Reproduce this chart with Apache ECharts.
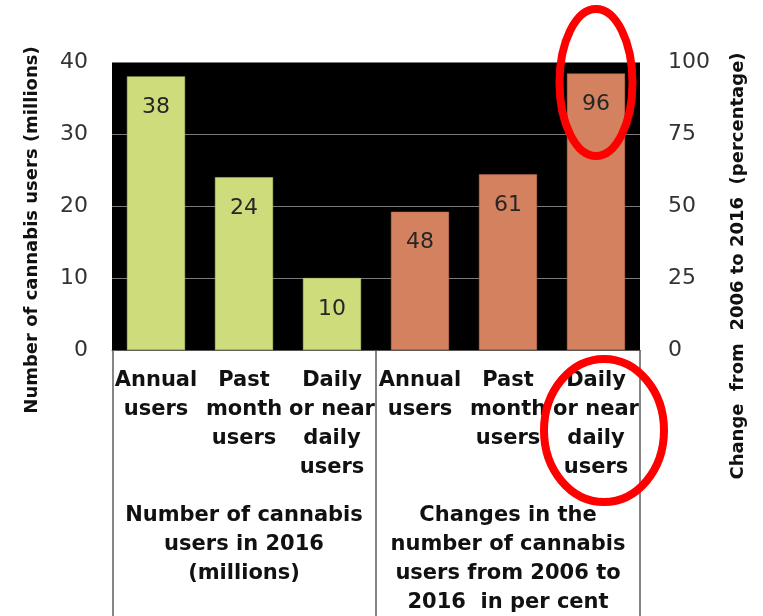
<!DOCTYPE html>
<html>
<head>
<meta charset="utf-8">
<script src="https://cdn.jsdelivr.net/npm/echarts@6/dist/echarts.min.js"></script>
<style>
  html, body { margin: 0; padding: 0; background: #fff; }
  #chart { width: 763px; height: 616px; }
</style>
</head>
<body>
<div id="chart"></div>
<script>
// Category labels along the bottom axis (two groups of three)
const categories = [
  'Annual\nusers', 'Past\nmonth\nusers', 'Daily\nor near\ndaily\nusers',
  'Annual\nusers', 'Past\nmonth\nusers', 'Daily\nor near\ndaily\nusers'
];
// Number of cannabis users in 2016 (millions) – left axis
const users2016 = [38, 24, 10, '-', '-', '-'];
// Change in number of users 2006–2016 (per cent) – right axis
const change0616 = ['-', '-', '-', 48, 61, 96];
// Group captions beneath the categories
const groupLabels = [
  'Number of cannabis\nusers in 2016\n(millions)',
  'Changes in the\nnumber of cannabis\nusers from 2006 to\n2016  in per cent'
];
const leftTitle = 'Number of cannabis users (millions)';
const rightTitle = 'Change  from  2006 to 2016  (percentage)';

const FONT = 'DejaVu Sans';
const chart = echarts.init(document.getElementById('chart'), null, { renderer: 'canvas' });

const option = {
  animation: false,
  backgroundColor: '#fff',
  grid: {
    left: 112, right: 123, top: 62, bottom: 266,
    show: true, backgroundColor: '#000', borderWidth: 0
  },
  xAxis: {
    type: 'category',
    data: categories,
    axisLine: { show: true, lineStyle: { color: '#555', width: 1 } },
    axisTick: { show: false },
    axisLabel: {
      interval: 0, margin: 16, fontFamily: FONT, fontWeight: 'bold',
      fontSize: 21, lineHeight: 29, color: '#111', align: 'center'
    }
  },
  yAxis: [
    {
      type: 'value', min: 0, max: 40, interval: 10, position: 'left',
      axisLine: { show: false }, axisTick: { show: false },
      axisLabel: { margin: 24, fontFamily: FONT, fontSize: 22, color: '#333' },
      splitLine: { show: true, lineStyle: { color: '#7a7a7a', width: 1 } }
    },
    {
      type: 'value', min: 0, max: 100, interval: 25, position: 'right',
      axisLine: { show: false }, axisTick: { show: false },
      axisLabel: { margin: 28, fontFamily: FONT, fontSize: 22, color: '#333' },
      splitLine: { show: false }
    }
  ],
  series: [
    {
      name: 'Users 2016', type: 'bar', yAxisIndex: 0, data: users2016,
      barWidth: '66%', barGap: '-100%',
      itemStyle: { color: '#cfdc7b', borderColor: '#b9c866', borderWidth: 0.5 },
      label: {
        show: true, position: 'insideTop', distance: 20,
        fontFamily: FONT, fontSize: 22, color: '#262626'
      }
    },
    {
      name: 'Change 2006-2016', type: 'bar', yAxisIndex: 1, data: change0616,
      barWidth: '66%', barGap: '-100%',
      itemStyle: { color: '#d4815f', borderColor: '#bf6e4e', borderWidth: 0.5 },
      label: {
        show: true, position: 'insideTop', distance: 20,
        fontFamily: FONT, fontSize: 22, color: '#262626'
      }
    }
  ]
};
chart.setOption(option);

// Table frame, group captions, axis titles and highlight rings,
// placed from the chart's own coordinate system.
function buildOverlay() {
  const x0 = chart.convertToPixel({ xAxisIndex: 0 }, 0);
  const x1 = chart.convertToPixel({ xAxisIndex: 0 }, 1);
  const band = x1 - x0;
  const left = x0 - band / 2;
  const mid = left + band * 3;
  const right = left + band * 6;
  const baseY = chart.convertToPixel({ yAxisIndex: 0 }, 0);
  const topY = chart.convertToPixel({ yAxisIndex: 0 }, 40);
  const H = 616;

  const last = change0616.length - 1;
  const lastX = chart.convertToPixel({ xAxisIndex: 0 }, last);
  const lastTop = chart.convertToPixel({ yAxisIndex: 1 }, change0616[last]);

  const vline = (x) => ({
    type: 'line', silent: true,
    shape: { x1: x, y1: baseY, x2: x, y2: H + 2 },
    style: { stroke: '#444', lineWidth: 1.3 }
  });

  const groupText = (cx, text) => ({
    type: 'text', silent: true, x: cx, y: baseY + 151,
    style: {
      text: text, align: 'center', verticalAlign: 'top',
      font: 'bold 21px "' + FONT + '"', lineHeight: 29, fill: '#111'
    }
  });

  const vTitle = (cx, cy, text) => ({
    type: 'text', silent: true, x: cx, y: cy, rotation: Math.PI / 2,
    style: {
      text: text, align: 'center', verticalAlign: 'middle',
      font: 'bold 18px "' + FONT + '"', fill: '#111'
    }
  });

  const ring = (cx, cy, rx, ry) => ({
    type: 'ellipse', silent: true, z: 100,
    shape: { cx: cx, cy: cy, rx: rx, ry: ry },
    style: { fill: 'none', stroke: '#ff0000', lineWidth: 8 }
  });

  chart.setOption({
    graphic: [
      vline(left + 1), vline(mid), vline(right),
      groupText((left + mid) / 2, groupLabels[0]),
      groupText((mid + right) / 2, groupLabels[1]),
      vTitle(32, (topY + baseY) / 2 + 24, leftTitle),
      vTitle(738, (topY + baseY) / 2 + 60, rightTitle),
      ring(lastX, lastTop + 9, 36.5, 73.5),
      ring(lastX + 8, baseY + 80.5, 60, 71.5)
    ]
  });
}
buildOverlay();
</script>
</body>
</html>
